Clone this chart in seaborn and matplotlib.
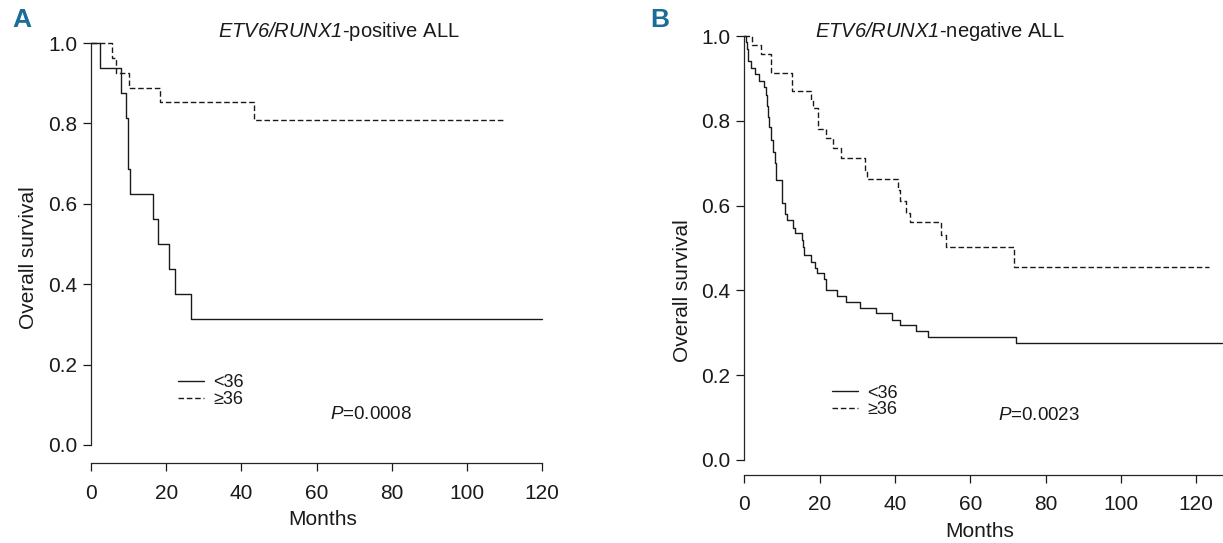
import pandas as pd
import matplotlib.pyplot as plt
import seaborn as sns

# Panel A: ETV6/RUNX1-positive ALL (Kaplan-Meier step points, months / survival)
pos_lt36_months = [0, 2.3, 7.9, 9.2, 9.9, 10.3, 16.6, 17.9, 20.8, 22.4, 26.7, 120]
pos_lt36_surv = [1.0, 0.9375, 0.875, 0.8125, 0.6875, 0.625, 0.5625, 0.5, 0.4375, 0.375, 0.3125, 0.3125]
pos_ge36_months = [0, 5.7, 6.7, 10.0, 18.3, 43.5, 109.6]
pos_ge36_surv = [1.0, 0.963, 0.926, 0.889, 0.852, 0.809, 0.809]

# Panel B: ETV6/RUNX1-negative ALL
neg_lt36_months = [0, 0.4, 0.7, 1.0, 1.8, 2.8, 3.8, 5.2, 5.6, 5.9, 6.2, 6.6, 7.0, 7.5,
                   8.2, 8.4, 9.9, 10.1, 10.8, 11.4, 13.0, 13.4, 15.2, 15.6, 15.9, 17.6,
                   18.7, 19.4, 21.1, 21.6, 24.5, 27.1, 30.7, 35.0, 39.1, 41.3, 45.7,
                   48.8, 72.2, 127]
neg_lt36_surv = [1.0, 0.985, 0.97, 0.94, 0.925, 0.91, 0.895, 0.88, 0.86, 0.835, 0.81,
                 0.785, 0.755, 0.727, 0.70, 0.66, 0.63, 0.605, 0.58, 0.566, 0.546, 0.536,
                 0.519, 0.503, 0.483, 0.468, 0.452, 0.44, 0.428, 0.40, 0.387, 0.373,
                 0.358, 0.346, 0.330, 0.318, 0.304, 0.291, 0.277, 0.277]
neg_ge36_months = [0, 2.1, 4.5, 7.0, 12.6, 17.6, 18.3, 19.6, 21.7, 23.6, 25.6, 32.0, 32.5,
                   40.9, 41.3, 42.9, 44.1, 52.3, 53.5, 71.6, 123.5]
neg_ge36_surv = [1.0, 0.979, 0.958, 0.913, 0.870, 0.849, 0.830, 0.78, 0.759, 0.735, 0.712,
                 0.684, 0.662, 0.637, 0.612, 0.583, 0.562, 0.531, 0.503, 0.454, 0.454]

groups = ['<36', '\u226536']
x_ticks = [0, 20, 40, 60, 80, 100, 120]
y_ticks = [0.0, 0.2, 0.4, 0.6, 0.8, 1.0]


def km_frame(m1, s1, m2, s2):
    a = pd.DataFrame({'month': m1, 'surv': s1, 'group': groups[0]})
    b = pd.DataFrame({'month': m2, 'surv': s2, 'group': groups[1]})
    return pd.concat([a, b], ignore_index=True)


sns.set_style('ticks')
plt.rcParams['font.family'] = ['Liberation Sans', 'DejaVu Sans']
plt.rcParams['mathtext.fontset'] = 'custom'
plt.rcParams['mathtext.rm'] = 'Liberation Sans'
plt.rcParams['mathtext.sf'] = 'Liberation Sans:italic'
plt.rcParams['axes.linewidth'] = 0.9
plt.rcParams['xtick.major.width'] = 0.9
plt.rcParams['ytick.major.width'] = 0.9

ink = '#1a1a1a'
fig = plt.figure(figsize=(12.23, 5.43), dpi=100)
ax_a = fig.add_axes([0.0744, 0.1805, 0.3688, 0.7403])
ax_b = fig.add_axes([0.6087, 0.1529, 0.3908, 0.7808])

panels = [
    (ax_a, km_frame(pos_lt36_months, pos_lt36_surv, pos_ge36_months, pos_ge36_surv),
     '$\\mathsf{ETV6/RUNX1}$-positive ALL', '0.0008', 120, 13,
     dict(title=(0.55, 1.015), p=(0.53, 0.075), leg=(0.193, 0.134),
          ylab=(-0.118, 0.465), xlab=(0.514, -0.162))),
    (ax_b, km_frame(neg_lt36_months, neg_lt36_surv, neg_ge36_months, neg_ge36_surv),
     '$\\mathsf{ETV6/RUNX1}$-negative ALL', '0.0023', 127, 10.5,
     dict(title=(0.409, 0.998), p=(0.530, 0.106), leg=(0.183, 0.138),
          ylab=(-0.11, 0.40), xlab=(0.493, -0.147))),
]

for ax, df, title, pval, xmax, off, pos in panels:
    sns.lineplot(data=df, x='month', y='surv', style='group', style_order=groups,
                 dashes={groups[0]: '', groups[1]: (4, 2)}, color=ink,
                 estimator=None, sort=False, drawstyle='steps-post', linewidth=1.0,
                 clip_on=False, ax=ax)
    ax.set_xlim(0, xmax)
    ax.set_ylim(0, 1.0)
    ax.set_xticks(x_ticks)
    ax.set_yticks(y_ticks)
    ax.set_yticklabels([f'{v:.1f}' for v in y_ticks])
    ax.tick_params(axis='both', labelsize=15, length=6, color=ink, labelcolor=ink)
    ax.tick_params(axis='x', pad=9)
    ax.tick_params(axis='y', pad=4)
    sns.despine(ax=ax, offset={'bottom': off})
    ax.set_xlabel('Months', fontsize=15, color=ink)
    ax.set_ylabel('Overall survival', fontsize=15, color=ink)
    ax.xaxis.set_label_coords(*pos['xlab'])
    ax.yaxis.set_label_coords(*pos['ylab'])
    ax.text(*pos['title'], title, transform=ax.transAxes, ha='center', va='baseline',
            fontsize=14.5, color=ink)
    ax.text(*pos['p'], '$\\mathsf{P}$=' + pval, transform=ax.transAxes, ha='left',
            va='center', fontsize=13.5, color=ink)
    ax.legend(loc='center left', bbox_to_anchor=pos['leg'], frameon=False, fontsize=13,
              handlelength=1.45, handletextpad=0.5, labelspacing=-0.02, borderpad=0,
              borderaxespad=0, labelcolor=ink)

fig.text(0.0098, 0.985, 'A', ha='left', va='top', fontsize=19, fontweight='bold', color='#1b6c98')
fig.text(0.532, 0.985, 'B', ha='left', va='top', fontsize=19, fontweight='bold', color='#1b6c98')

plt.savefig('out.png', dpi=100)
plt.close()
